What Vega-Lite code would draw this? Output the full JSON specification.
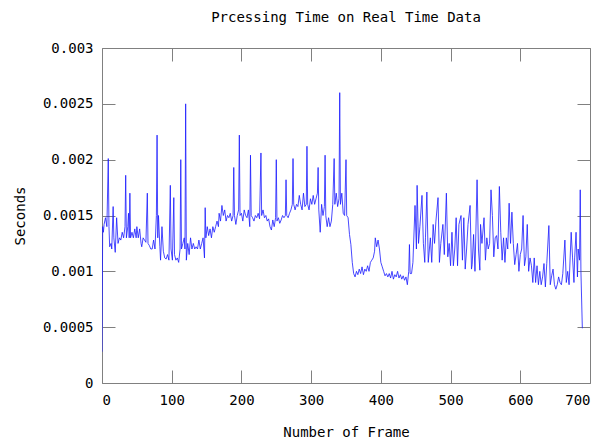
{
"$schema":"https://vega.github.io/schema/vega-lite/v6.json",
"width":488,"height":335,
"autosize":{"type":"none"},
"padding":{"left":102,"top":48,"right":13,"bottom":58},
"background":"white",
"title":{"text":"Prcessing Time on Real Time Data","font":"DejaVu Sans Mono","fontSize":14,"fontWeight":"normal","color":"#000000","offset":16},
"config":{"view":{"stroke":"#808080","strokeWidth":1},
"axis":{"grid":false,"domain":false,"tickColor":"#808080","tickSize":-13,"labelFont":"DejaVu Sans Mono","labelFontSize":14,"labelColor":"#000000","titleFont":"DejaVu Sans Mono","titleFontSize":14,"titleFontWeight":"normal","titleColor":"#000000"}},
"data":{"values":[
{"f":0,"s":0.00028},{"f":1,"s":0.0014},{"f":2,"s":0.00135},{"f":3,"s":0.00142},{"f":5,"s":0.00148},{"f":7,"s":0.0014},{"f":9,"s":0.00201},{"f":10,"s":0.0014},{"f":11,"s":0.00122},{"f":13,"s":0.00125},{"f":14,"s":0.0012},{"f":16,"s":0.00158},{"f":17,"s":0.0013},{"f":19,"s":0.00117},{"f":21,"s":0.00148},{"f":23,"s":0.00125},{"f":25,"s":0.0013},{"f":27,"s":0.00128},{"f":29,"s":0.00135},{"f":31,"s":0.0013},{"f":33,"s":0.0014},{"f":34,"s":0.00186},{"f":35,"s":0.0013},{"f":37,"s":0.0014},{"f":38,"s":0.00152},{"f":39,"s":0.0013},{"f":40,"s":0.0017},{"f":41,"s":0.0013},{"f":43,"s":0.00135},{"f":45,"s":0.0013},{"f":47,"s":0.00138},{"f":49,"s":0.0013},{"f":50,"s":0.0014},{"f":52,"s":0.0013},{"f":54,"s":0.00138},{"f":56,"s":0.00125},{"f":57,"s":0.00122},{"f":59,"s":0.0013},{"f":61,"s":0.00128},{"f":63,"s":0.00126},{"f":65,"s":0.0017},{"f":66,"s":0.00125},{"f":68,"s":0.00123},{"f":70,"s":0.0012},{"f":72,"s":0.0012},{"f":74,"s":0.00128},{"f":76,"s":0.0012},{"f":78,"s":0.0015},{"f":79,"s":0.00222},{"f":80,"s":0.0013},{"f":81,"s":0.0015},{"f":83,"s":0.00122},{"f":84,"s":0.0011},{"f":86,"s":0.0014},{"f":88,"s":0.00118},{"f":90,"s":0.00112},
{"f":92,"s":0.00111},{"f":94,"s":0.00115},{"f":96,"s":0.0011},{"f":98,"s":0.00177},{"f":99,"s":0.0012},{"f":101,"s":0.0011},{"f":103,"s":0.00166},{"f":104,"s":0.00115},{"f":106,"s":0.0011},{"f":108,"s":0.00112},{"f":110,"s":0.00108},{"f":112,"s":0.0012},{"f":113,"s":0.002},{"f":114,"s":0.0012},{"f":116,"s":0.00125},{"f":118,"s":0.0013},{"f":119,"s":0.0012},{"f":120,"s":0.0025},{"f":121,"s":0.0011},{"f":123,"s":0.00125},{"f":125,"s":0.00115},{"f":127,"s":0.0013},{"f":129,"s":0.0012},{"f":131,"s":0.00125},{"f":133,"s":0.0012},{"f":135,"s":0.00122},{"f":137,"s":0.0012},{"f":139,"s":0.00128},{"f":141,"s":0.0012},{"f":143,"s":0.00125},{"f":145,"s":0.0013},{"f":147,"s":0.00112},{"f":148,"s":0.00157},{"f":149,"s":0.0013},{"f":151,"s":0.0014},{"f":153,"s":0.00132},{"f":155,"s":0.00138},{"f":157,"s":0.0013},{"f":159,"s":0.0014},{"f":161,"s":0.00135},{"f":163,"s":0.0014},{"f":165,"s":0.00145},{"f":167,"s":0.0014},{"f":168,"s":0.00152},{"f":170,"s":0.00145},{"f":172,"s":0.00159},{"f":174,"s":0.0015},{"f":176,"s":0.00155},
{"f":178,"s":0.00145},{"f":180,"s":0.0015},{"f":182,"s":0.00148},{"f":184,"s":0.00152},{"f":186,"s":0.00145},{"f":188,"s":0.0015},{"f":189,"s":0.00193},{"f":190,"s":0.0015},{"f":192,"s":0.00142},{"f":194,"s":0.0015},{"f":196,"s":0.00155},{"f":197,"s":0.00222},{"f":198,"s":0.0015},{"f":200,"s":0.00152},{"f":202,"s":0.00145},{"f":204,"s":0.00155},{"f":206,"s":0.0015},{"f":208,"s":0.00148},{"f":210,"s":0.00155},{"f":212,"s":0.0014},{"f":213,"s":0.00204},{"f":214,"s":0.0015},{"f":216,"s":0.00148},{"f":218,"s":0.00145},{"f":220,"s":0.0015},{"f":222,"s":0.00148},{"f":224,"s":0.00152},{"f":226,"s":0.00147},{"f":228,"s":0.00206},{"f":229,"s":0.0015},{"f":231,"s":0.00155},{"f":233,"s":0.00148},{"f":235,"s":0.0015},{"f":237,"s":0.00145},{"f":239,"s":0.00147},{"f":241,"s":0.0014},{"f":243,"s":0.00137},{"f":245,"s":0.00146},{"f":247,"s":0.0014},{"f":249,"s":0.00148},{"f":250,"s":0.002},{"f":251,"s":0.00145},{"f":253,"s":0.00148},{"f":255,"s":0.00143},{"f":257,"s":0.00146},{"f":259,"s":0.0015},{"f":261,"s":0.00148},{"f":263,"s":0.0015},{"f":264,"s":0.00182},{"f":265,"s":0.0015},{"f":267,"s":0.00148},{"f":269,"s":0.00152},{"f":271,"s":0.00155},{"f":273,"s":0.0016},{"f":274,"s":0.00201},{"f":275,"s":0.0016},{"f":277,"s":0.00155},{"f":279,"s":0.0016},{"f":281,"s":0.00158},{"f":283,"s":0.00168},{"f":285,"s":0.0016},{"f":287,"s":0.00155},{"f":289,"s":0.0017},{"f":291,"s":0.00158},{"f":293,"s":0.0016},{"f":294,"s":0.00212},{"f":295,"s":0.0016},{"f":297,"s":0.00155},{"f":299,"s":0.00165},{"f":301,"s":0.0016},{"f":303,"s":0.00168},{"f":305,"s":0.0016},{"f":307,"s":0.00165},{"f":309,"s":0.0017},{"f":310,"s":0.00193},{"f":311,"s":0.00155},{"f":313,"s":0.00135},{"f":315,"s":0.0016},{"f":317,"s":0.0015},{"f":319,"s":0.00158},{"f":320,"s":0.00204},{"f":321,"s":0.0015},{"f":323,"s":0.0014},{"f":325,"s":0.00148},{"f":327,"s":0.0014},{"f":329,"s":0.00145},{"f":331,"s":0.0016},{"f":333,"s":0.00201},{"f":334,"s":0.0016},{"f":336,"s":0.0017},{"f":338,"s":0.00158},{"f":340,"s":0.00165},{"f":341,"s":0.0026},{"f":342,"s":0.0016},{"f":344,"s":0.0017},{"f":346,"s":0.00152},{"f":348,"s":0.0015},{"f":350,"s":0.002},{"f":351,"s":0.0015},{"f":353,"s":0.00148},{"f":355,"s":0.00133},{"f":357,"s":0.00124},{"f":359,"s":0.00108},{"f":361,"s":0.00098},{"f":363,"s":0.00095},
{"f":365,"s":0.001},{"f":367,"s":0.00097},{"f":369,"s":0.00102},{"f":371,"s":0.00098},{"f":373,"s":0.00104},{"f":375,"s":0.00097},{"f":377,"s":0.00102},{"f":379,"s":0.001},{"f":381,"s":0.00105},{"f":383,"s":0.001},{"f":385,"s":0.00108},{"f":387,"s":0.0011},{"f":389,"s":0.00112},{"f":391,"s":0.00118},{"f":392,"s":0.0013},{"f":394,"s":0.00122},{"f":396,"s":0.00128},{"f":398,"s":0.0012},{"f":400,"s":0.00108},{"f":402,"s":0.00104},{"f":404,"s":0.001},{"f":406,"s":0.00096},{"f":408,"s":0.00098},{"f":410,"s":0.00095},{"f":412,"s":0.00098},{"f":414,"s":0.00094},{"f":416,"s":0.001},{"f":418,"s":0.00093},{"f":420,"s":0.00097},{"f":422,"s":0.00095},{"f":424,"s":0.001},{"f":426,"s":0.00094},{"f":428,"s":0.00097},{"f":430,"s":0.00093},{"f":432,"s":0.00096},{"f":434,"s":0.00092},{"f":436,"s":0.00095},{"f":438,"s":0.00088},{"f":440,"s":0.001},{"f":441,"s":0.00124},{"f":442,"s":0.00098},{"f":444,"s":0.00098},{"f":446,"s":0.00108},{"f":449,"s":0.00159},{"f":451,"s":0.0012},{"f":452,"s":0.00177},{"f":454,"s":0.00125},{"f":456,"s":0.0014},{"f":459,"s":0.00168},{"f":461,"s":0.00125},{"f":463,"s":0.00108},{"f":464,"s":0.0013},{"f":466,"s":0.00171},{"f":468,"s":0.00108},{"f":471,"s":0.0013},{"f":473,"s":0.00108},{"f":475,"s":0.00142},{"f":477,"s":0.00125},{"f":479,"s":0.00145},{"f":482,"s":0.00166},{"f":484,"s":0.00108},{"f":486,"s":0.00125},{"f":489,"s":0.00142},{"f":491,"s":0.00115},{"f":494,"s":0.0017},{"f":496,"s":0.00113},{"f":498,"s":0.00125},{"f":500,"s":0.00105},{"f":502,"s":0.00135},{"f":504,"s":0.00105},{"f":506,"s":0.0012},{"f":508,"s":0.00148},{"f":510,"s":0.00105},{"f":512,"s":0.00142},{"f":515,"s":0.0015},{"f":517,"s":0.0011},{"f":519,"s":0.00148},{"f":521,"s":0.00102},{"f":523,"s":0.0012},{"f":525,"s":0.00142},{"f":528,"s":0.00159},{"f":530,"s":0.00102},{"f":531,"s":0.00106},{"f":533,"s":0.00133},{"f":535,"s":0.001},{"f":538,"s":0.00182},{"f":540,"s":0.0012},{"f":542,"s":0.00101},{"f":543,"s":0.00142},{"f":545,"s":0.00125},{"f":548,"s":0.00148},{"f":550,"s":0.0011},{"f":552,"s":0.0013},{"f":554,"s":0.0012},{"f":556,"s":0.00125},{"f":558,"s":0.00173},{"f":560,"s":0.0015},{"f":562,"s":0.00113},{"f":564,"s":0.0013},{"f":566,"s":0.00132},{"f":568,"s":0.0012},{"f":570,"s":0.00176},{"f":572,"s":0.00135},{"f":574,"s":0.0011},{"f":576,"s":0.0013},{"f":578,"s":0.00108},{"f":580,"s":0.0013},{"f":582,"s":0.0012},{"f":584,"s":0.00161},{"f":586,"s":0.00125},{"f":588,"s":0.00153},{"f":590,"s":0.00125},{"f":592,"s":0.00106},{"f":594,"s":0.00115},{"f":596,"s":0.00125},{"f":598,"s":0.001},{"f":600,"s":0.00115},{"f":602,"s":0.0012},{"f":604,"s":0.0015},{"f":606,"s":0.00105},{"f":608,"s":0.00113},{"f":610,"s":0.00142},{"f":612,"s":0.001},{"f":614,"s":0.00112},{"f":616,"s":0.00105},{"f":618,"s":0.0009},{"f":620,"s":0.00112},{"f":622,"s":0.0009},{"f":624,"s":0.00105},{"f":626,"s":0.00088},{"f":628,"s":0.001},{"f":630,"s":0.00088},{"f":632,"s":0.00095},{"f":634,"s":0.00107},{"f":636,"s":0.00086},{"f":638,"s":0.00107},{"f":641,"s":0.00141},{"f":643,"s":0.00088},{"f":645,"s":0.00096},{"f":647,"s":0.00102},{"f":649,"s":0.00088},{"f":651,"s":0.00084},{"f":653,"s":0.00088},{"f":655,"s":0.00095},{"f":657,"s":0.0009},{"f":659,"s":0.00088},{"f":661,"s":0.00098},{"f":664,"s":0.00128},{"f":666,"s":0.0009},{"f":668,"s":0.001},{"f":670,"s":0.00088},{"f":673,"s":0.00135},{"f":675,"s":0.00112},{"f":677,"s":0.0009},{"f":678,"s":0.00112},{"f":680,"s":0.00135},{"f":682,"s":0.00095},{"f":683,"s":0.0012},{"f":685,"s":0.0011},{"f":686,"s":0.00173},{"f":687,"s":0.001},{"f":689,"s":0.00049}
]},
"layer":[
{"mark":{"type":"line","color":"#1a1aff","strokeWidth":0.8,"clip":true},
"encoding":{
"x":{"field":"f","type":"quantitative","scale":{"domain":[0,700],"nice":false},"axis":{"values":[0,100,200,300,400,500,600,700],"title":"Number of Frame","labelPadding":23,"titlePadding":18}},
"y":{"field":"s","type":"quantitative","scale":{"domain":[0,0.003],"nice":false,"zero":false},"axis":{"values":[0,0.0005,0.001,0.0015,0.002,0.0025,0.003],"format":"~g","title":"Seconds","labelPadding":22,"titlePadding":15}}}},
{"mark":{"type":"line","opacity":0},
"encoding":{
"x":{"field":"f","type":"quantitative","scale":{"domain":[0,700],"nice":false},"axis":{"orient":"top","values":[0,100,200,300,400,500,600,700],"labels":false,"title":null}},
"y":{"field":"s","type":"quantitative","scale":{"domain":[0,0.003],"nice":false,"zero":false},"axis":{"orient":"right","values":[0,0.0005,0.001,0.0015,0.002,0.0025,0.003],"labels":false,"title":null}}}}
],
"resolve":{"axis":{"x":"independent","y":"independent"}}
}
